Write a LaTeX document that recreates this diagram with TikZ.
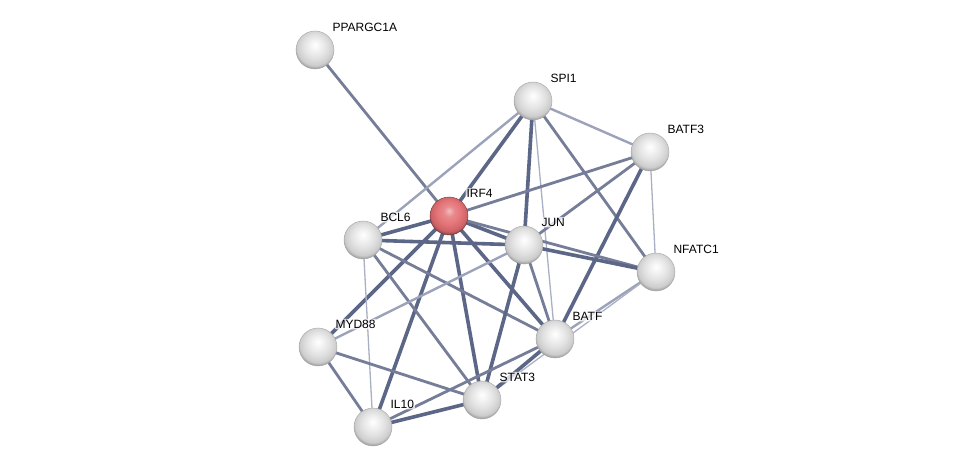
\documentclass[tikz,border=0pt]{standalone}
\usepackage{fontspec}
\setmainfont{Liberation Sans}
\usepackage{xcolor}
\usetikzlibrary{positioning,backgrounds}
\definecolor{stredge}{RGB}{92,102,134}
\definecolor{stredgelight}{RGB}{155,162,186}
\definecolor{strred}{RGB}{226,108,112}
\pgfdeclareradialshading{greysphere}{\pgfpoint{0bp}{7bp}}{color(0bp)=(white); color(7bp)=(white!95!black); color(16bp)=(white!88!black); color(24bp)=(white!80!black); color(30bp)=(white!50!black); color(50bp)=(white!50!black)}
\pgfdeclareradialshading{redsphere}{\pgfpoint{0bp}{7bp}}{color(0bp)=(strred!45!white); color(7bp)=(strred!80!white); color(16bp)=(strred!95!white); color(24bp)=(strred!90!black); color(30bp)=(strred!45!black); color(50bp)=(strred!45!black)}

\begin{document}
\begin{tikzpicture}[x=1pt,y=1pt,
  every node/.style={font=\fontsize{12}{14}\selectfont},
  prot/.style={circle,minimum size=38pt,inner sep=0pt,shading=greysphere,draw=gray!70,line width=0.4pt},
  lbl/.style={inner sep=1pt,outer sep=0pt,fill=white,fill opacity=0.75,text opacity=1,rounded corners=2pt},
  strong/.style={line width=3.6pt,stredge},
  mid/.style={line width=2.8pt,stredge!85},
  light/.style={line width=2.4pt,stredgelight},
  faint/.style={line width=1.3pt,stredgelight!85}]
  \useasboundingbox (0,0) rectangle (975,472);

  % proteins
  \node[prot] (pparg) at (315,422) {};
  \node[prot] (spi1) at (533,371) {};
  \node[prot] (batf3) at (650,320) {};
  \node[prot,shading=redsphere,draw=strred!50!black] (irf4) at (449,256) {};
  \node[prot] (bcl6) at (363,232) {};
  \node[prot] (jun) at (524,227) {};
  \node[prot] (nfatc1) at (656,200) {};
  \node[prot] (batf) at (555,133) {};
  \node[prot] (myd88) at (318,125) {};
  \node[prot] (stat3) at (482,72) {};
  \node[prot] (il10) at (373,45) {};

  % names
  \node[lbl,above right=4pt and 3pt of pparg] (pparg-t) {PPARGC1A};
  \node[lbl,above right=4pt and 3pt of spi1] (spi1-t) {SPI1};
  \node[lbl,above right=4pt and 3pt of batf3] (batf3-t) {BATF3};
  \node[lbl,above right=4pt and 3pt of irf4] (irf4-t) {IRF4};
  \node[lbl,above right=4pt and 3pt of bcl6] (bcl6-t) {BCL6};
  \node[lbl,above right=4pt and 3pt of jun] (jun-t) {JUN};
  \node[lbl,above right=4pt and 3pt of nfatc1] (nfatc1-t) {NFATC1};
  \node[lbl,above right=4pt and 3pt of batf] (batf-t) {BATF};
  \node[lbl,above right=4pt and 3pt of myd88] (myd88-t) {MYD88};
  \node[lbl,above right=4pt and 3pt of stat3] (stat3-t) {STAT3};
  \node[lbl,above right=4pt and 3pt of il10] (il10-t) {IL10};

  % interactions
  \begin{scope}[on background layer]
    \fill[white] (0,0) rectangle (975,472);
    \draw[mid] (pparg.center) -- (irf4.center);
    \draw[light] (spi1.center) -- (bcl6.center);
    \draw[strong] (spi1.center) -- (irf4.center);
    \draw[strong] (spi1.center) -- (jun.center);
    \draw[faint] (spi1.center) -- (batf.center);
    \draw[mid] (spi1.center) -- (nfatc1.center);
    \draw[light] (spi1.center) -- (batf3.center);
    \draw[mid] (batf3.center) -- (irf4.center);
    \draw[mid] (batf3.center) -- (jun.center);
    \draw[strong] (batf3.center) -- (batf.center);
    \draw[faint] (batf3.center) -- (nfatc1.center);
    \draw[strong] (irf4.center) -- (bcl6.center);
    \draw[strong] (irf4.center) -- (jun.center);
    \draw[mid] (irf4.center) -- (nfatc1.center);
    \draw[strong] (irf4.center) -- (myd88.center);
    \draw[strong] (irf4.center) -- (il10.center);
    \draw[strong] (irf4.center) -- (stat3.center);
    \draw[strong] (irf4.center) -- (batf.center);
    \draw[strong] (bcl6.center) -- (jun.center);
    \draw[mid] (bcl6.center) -- (batf.center);
    \draw[mid] (bcl6.center) -- (stat3.center);
    \draw[faint] (bcl6.center) -- (il10.center);
    \draw[light] (jun.center) -- (myd88.center);
    \draw[strong] (jun.center) -- (stat3.center);
    \draw[mid] (jun.center) -- (batf.center);
    \draw[strong] (jun.center) -- (nfatc1.center);
    \draw[light] (batf.center) -- (nfatc1.center);
    \draw[faint] (stat3.center) -- (nfatc1.center);
    \draw[strong] (batf.center) -- (stat3.center);
    \draw[mid] (myd88.center) -- (stat3.center);
    \draw[mid] (myd88.center) -- (il10.center);
    \draw[strong] (il10.center) -- (stat3.center);
    \draw[mid] (il10.center) -- (batf.center);
  \end{scope}
\end{tikzpicture}
\end{document}
